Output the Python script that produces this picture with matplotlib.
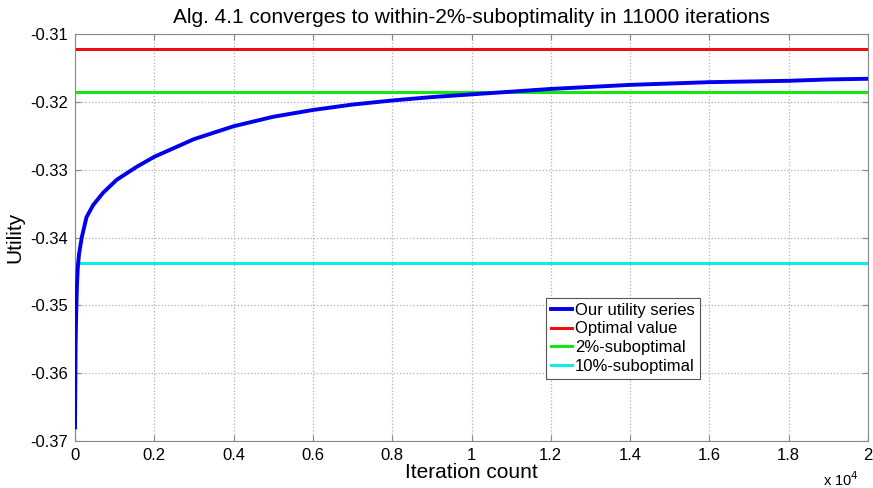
import matplotlib
matplotlib.use("Agg")
import matplotlib.pyplot as plt
from matplotlib.ticker import FuncFormatter, MultipleLocator

plt.rcParams['font.family'] = ['Liberation Sans', 'DejaVu Sans']

# values
iters = [0, 15, 30, 50, 70, 100, 170, 290, 460, 710, 1050, 1550, 2000,
         3000, 4000, 5000, 6000, 7000, 8000, 9000, 10000, 11000, 12000,
         13000, 14000, 15000, 16000, 17000, 18000, 19000, 20000]
utility = [-0.368, -0.356, -0.351, -0.347, -0.3445, -0.3425, -0.3400,
           -0.3370, -0.3352, -0.3334, -0.3315, -0.3296, -0.3281, -0.3255,
           -0.3236, -0.3222, -0.3212, -0.3204, -0.3198, -0.3193, -0.3189,
           -0.3185, -0.3181, -0.3178, -0.3175, -0.3173, -0.3171, -0.3170,
           -0.3169, -0.3167, -0.3166]
optimal = -0.3122
subopt2 = -0.3186
subopt10 = -0.3437

fig = plt.figure(figsize=(8.73, 4.88), dpi=100)
ax = fig.add_axes([75/873, 47/488, 793/873, 407/488])

ax.plot(iters, utility, color='#0000ee', lw=2.8, label='Our utility series', zorder=5)
ax.axhline(optimal, color='#ee1010', lw=2.2, label='Optimal value')
ax.axhline(subopt2, color='#10e810', lw=2.2, label='2%-suboptimal')
ax.axhline(subopt10, color='#10eaea', lw=2.2, label='10%-suboptimal')

ax.set_xlim(0, 20000)
ax.set_ylim(-0.37, -0.31)
ax.xaxis.set_major_locator(MultipleLocator(2000))
ax.yaxis.set_major_locator(MultipleLocator(0.01))
ax.xaxis.set_major_formatter(FuncFormatter(lambda v, p: '%g' % round(v / 1e4, 2)))
ax.yaxis.set_major_formatter(FuncFormatter(lambda v, p: '%g' % round(v, 2)))
ax.tick_params(direction='in', top=True, right=True, labelsize=12, length=4,
               color='#888888', pad=5)
for s in ax.spines.values():
    s.set_color('#888888')
ax.grid(True, ls=':', color='#b0b0b0', lw=0.9)

ax.set_title('Alg. 4.1 converges to within-2%-suboptimality in 11000 iterations',
             fontsize=15, pad=8)
ax.set_xlabel('Iteration count', fontsize=15, labelpad=0)
ax.set_ylabel('Utility', fontsize=15, labelpad=4)
ax.text(0.988, -0.072, r'x 10$^4$', transform=ax.transAxes, ha='right', va='top',
        fontsize=10.5)

leg = ax.legend(loc='upper left', bbox_to_anchor=(0.594, 0.352), fontsize=12,
                fancybox=False, framealpha=1, edgecolor='#555555',
                handlelength=1.25, handletextpad=0.2, borderpad=0.3,
                labelspacing=0.22, borderaxespad=0)
leg.get_frame().set_linewidth(0.8)

fig.savefig('out.png', dpi=100)
